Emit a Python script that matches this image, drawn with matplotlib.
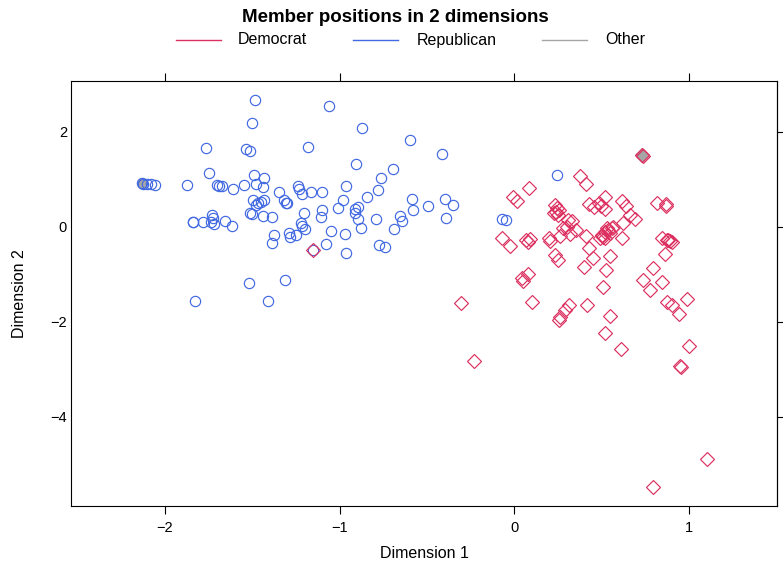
"""
Ideal point scatter: member positions on two estimated dimensions,
Democrats as diamonds, Republicans as circles.
"""

import matplotlib
matplotlib.use("Agg")
import matplotlib.pyplot as plt
from matplotlib.lines import Line2D

plt.rcParams["font.family"] = ["Liberation Sans", "DejaVu Sans"]

# ── Member positions (dimension 1, dimension 2) ─────────────────────

rep_dim1 = [
    -1.483, -1.500, -1.763, -1.536, -1.510, -1.748, -2.133, -2.124, -2.104,
    -2.081, -2.057, -1.876, -1.704, -1.690, -1.673, -1.608, -1.547, -1.492,
    -1.433, -1.481, -1.437, -1.346, -1.317, -1.304, -1.300, -1.237, -1.231,
    -1.213, -1.494, -1.467, -1.476, -1.430, -1.447, -1.510, -1.499, -1.437,
    -1.386, -1.203, -1.220, -1.214, -1.200, -1.839, -1.836, -1.784, -1.728,
    -1.722, -1.735, -1.719, -1.656, -1.613, -1.376, -1.386, -1.292, -1.284,
    -1.250, -1.519, -1.314, -1.829, -1.412, -1.180, -1.063, -0.874, -0.595,
    -0.415, -0.908, -0.696, -0.764, -0.781, -0.964, -1.166, -1.100, -0.846,
    -0.983, -1.007, -1.101, -1.105, -0.910, -0.895, -0.912, -0.897, -0.878,
    -0.791, -0.588, -0.582, -0.654, -0.646, -0.689, -0.497, -0.396, -0.354,
    -0.394, -1.051, -0.971, -1.078, -0.965, -0.772, -0.738, -1.151, -0.072,
    -0.047, 0.244,
]
rep_dim2 = [
    2.663, 2.179, 1.646, 1.632, 1.600, 1.126, 0.909, 0.905, 0.901,
    0.895, 0.884, 0.869, 0.874, 0.863, 0.846, 0.789, 0.869, 1.080,
    1.015, 0.888, 0.842, 0.726, 0.558, 0.505, 0.488, 0.846, 0.800,
    0.680, 0.558, 0.495, 0.459, 0.558, 0.526, 0.284, 0.263, 0.225,
    0.196, 0.278, 0.067, 0.004, -0.053, 0.105, 0.099, 0.088, 0.242,
    0.185, 0.099, 0.046, 0.112, 0.006, -0.168, -0.352, -0.133, -0.211,
    -0.168, -1.194, -1.116, -1.573, -1.575, 1.684, 2.543, 2.080, 1.825,
    1.526, 1.312, 1.204, 1.027, 0.768, 0.857, 0.720, 0.720, 0.632,
    0.554, 0.400, 0.352, 0.196, 0.364, 0.406, 0.295, 0.162, -0.025,
    0.164, 0.585, 0.352, 0.232, 0.126, -0.057, 0.438, 0.585, 0.463,
    0.175, -0.088, -0.164, -0.373, -0.562, -0.385, -0.438, -0.499, 0.152,
    0.131, 1.091,
]

dem_dim1 = [
    0.378, 0.407, 0.083, -0.007, 0.015, 0.429, 0.232, 0.241, 0.240, 0.224,
    0.251, 0.256, 0.481, 0.521, 0.518, 0.495, 0.309, 0.332, 0.276, 0.351,
    0.260, 0.318, 0.299, 0.200, 0.201, 0.410, 0.499, 0.518, 0.527, 0.508,
    0.489, 0.556, 0.537, 0.565, 0.546, 0.518, -0.073, -0.027, 0.066, 0.089,
    0.077, 0.427, 0.451, 0.396, 0.549, 0.522, 0.230, 0.247, 0.080, 0.043,
    0.050, 0.506, -0.304, 0.100, 0.414, 0.313, 0.289, 0.260, 0.255, 0.549,
    0.521, 0.609, -0.233, 0.728, 0.738, 0.614, 0.640, 0.814, 0.870, 0.867,
    0.661, 0.622, 0.689, 0.617, 0.845, 0.871, 0.890, 0.880, 0.899, 0.861,
    0.792, 0.733, 0.775, 0.842, 0.875, 0.899, 0.939, 0.985, 1.001, 0.947,
    0.951, 1.100, 0.794, -1.151, 0.455,
]
dem_dim2 = [
    1.057, 0.895, 0.804, 0.621, 0.541, 0.484, 0.453, 0.389, 0.316, 0.278,
    0.242, 0.347, 0.488, 0.627, 0.368, 0.432, 0.143, 0.112, -0.038, -0.074,
    -0.189, -0.158, -0.004, -0.242, -0.295, -0.189, -0.179, -0.109, -0.038, -0.227,
    -0.248, -0.038, -0.074, -0.004, -0.131, -0.242, -0.236, -0.400, -0.291, -0.267,
    -0.320, -0.459, -0.669, -0.846, -0.621, -0.916, -0.594, -0.699, -0.996, -1.080,
    -1.141, -1.267, -1.615, -1.596, -1.657, -1.659, -1.752, -1.895, -1.968, -1.880,
    -2.236, -2.575, -2.825, 1.512, 1.495, 0.543, 0.436, 0.495, 0.442, 0.474,
    0.242, 0.084, 0.154, -0.236, -0.238, -0.284, -0.299, -0.274, -0.320, -0.585,
    -0.880, -1.126, -1.337, -1.173, -1.594, -1.653, -1.848, -1.516, -2.505, -2.943,
    -2.964, -4.901, -5.484, -0.499, 0.417,
]

other_dim1 = [-2.133, 0.728]
other_dim2 = [0.909, 1.512]
other_shape = ["o", "D"]

parties = ["Democrat", "Republican", "Other"]
party_colors = {"Democrat": "#DC3060", "Republican": "#4169E1", "Other": "#A6A6A6"}

x_ticks = [-2, -1, 0, 1]
y_ticks = [-4, -2, 0, 2]


# ── Figure ──────────────────────────────────────────────────────────

fig = plt.figure(figsize=(7.83, 5.63), dpi=100)
ax = fig.add_axes([0.0913, 0.1012, 0.9010, 0.7558])

# "Other" members sit underneath the party markers
for x, y, m in zip(other_dim1, other_dim2, other_shape):
    ax.plot(x, y, linestyle="none", marker=m, markersize=7.0,
            markerfacecolor=party_colors["Other"],
            markeredgecolor=party_colors["Other"], markeredgewidth=0.9)

ax.plot(rep_dim1, rep_dim2, linestyle="none", marker="o", markersize=7.4,
        markerfacecolor="none", markeredgecolor=party_colors["Republican"],
        markeredgewidth=0.85)
ax.plot(dem_dim1, dem_dim2, linestyle="none", marker="D", markersize=7.0,
        markerfacecolor="none", markeredgecolor=party_colors["Democrat"],
        markeredgewidth=0.85)

ax.set_xlim(-2.534, 1.502)
ax.set_ylim(-5.884, 3.074)
ax.set_xticks(x_ticks)
ax.set_yticks(y_ticks)
ax.tick_params(axis="x", direction="out", length=5.8, width=0.8, labelsize=10.5,
               top=True, labeltop=False, pad=5)
# y labels hug the frame on the left; tick marks only on the right
ax.tick_params(axis="y", length=0, labelsize=10.5, pad=3.2)
right = ax.secondary_yaxis("right")
right.set_yticks(y_ticks)
right.tick_params(direction="out", length=5.8, width=0.8, labelright=False)
for spine in ax.spines.values():
    spine.set_linewidth(0.8)
right.spines["right"].set_linewidth(0.8)

ax.set_xlabel("Dimension 1", fontsize=11.5, labelpad=8)
ax.set_ylabel("Dimension 2", fontsize=11.5, va="center")
ax.yaxis.set_label_coords(-0.073, 0.5)

# title and a key of coloured line segments above the panel
fig.text(0.505, 0.969, "Member positions in 2 dimensions",
         ha="center", va="center", fontsize=13.5, fontweight="bold")

key_lines = [(176, 221), (353, 398), (542, 587)]
key_text_x = [238, 417, 605]
key_y = 1 - 40 / 563
for party, (x0, x1), tx in zip(parties, key_lines, key_text_x):
    fig.add_artist(Line2D([x0 / 783, x1 / 783], [key_y, key_y],
                          color=party_colors[party], linewidth=1.0))
    fig.text(tx / 783, key_y, party, ha="left", va="center", fontsize=11.5)

fig.savefig("out.png", dpi=100)
